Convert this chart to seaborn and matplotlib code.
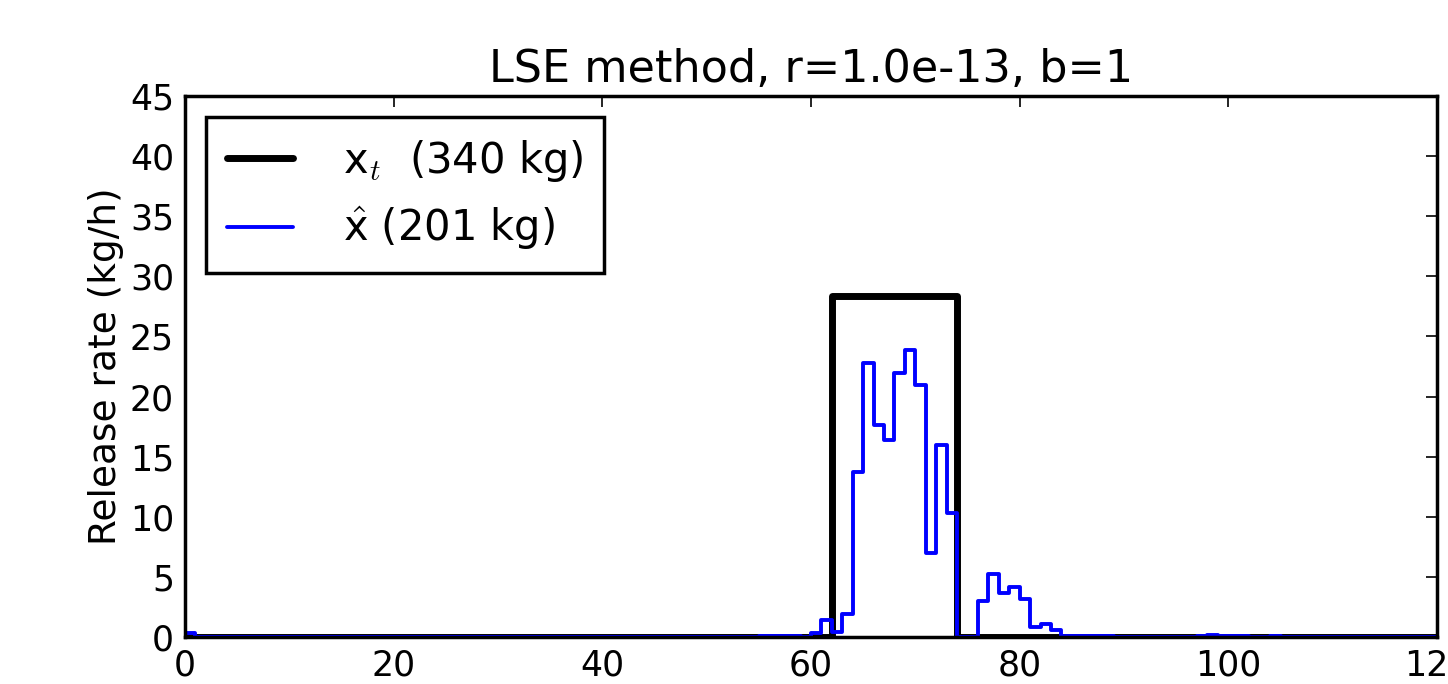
import numpy as np
import pandas as pd
import seaborn as sns
import matplotlib
matplotlib.use("Agg")
import matplotlib.pyplot as plt

# hourly release rates (kg/h), value holds over [h, h+1)
hours = np.arange(0, 121)

true_rate = [
    0, 0, 0, 0, 0, 0, 0, 0, 0, 0,
    0, 0, 0, 0, 0, 0, 0, 0, 0, 0,
    0, 0, 0, 0, 0, 0, 0, 0, 0, 0,
    0, 0, 0, 0, 0, 0, 0, 0, 0, 0,
    0, 0, 0, 0, 0, 0, 0, 0, 0, 0,
    0, 0, 0, 0, 0, 0, 0, 0, 0, 0,
    0, 0, 28.333, 28.333, 28.333, 28.333, 28.333, 28.333, 28.333, 28.333,
    28.333, 28.333, 28.333, 28.333, 0, 0, 0, 0, 0, 0,
    0, 0, 0, 0, 0, 0, 0, 0, 0, 0,
    0, 0, 0, 0, 0, 0, 0, 0, 0, 0,
    0, 0, 0, 0, 0, 0, 0, 0, 0, 0,
    0, 0, 0, 0, 0, 0, 0, 0, 0, 0,
    0,
]

est_rate = [
    0.3, 0, 0, 0, 0, 0, 0, 0, 0, 0,
    0, 0, 0, 0, 0, 0, 0, 0, 0, 0,
    0, 0, 0, 0, 0, 0, 0, 0, 0, 0,
    0, 0, 0, 0, 0, 0, 0, 0, 0, 0,
    0, 0, 0, 0, 0, 0, 0, 0, 0, 0,
    0, 0, 0, 0, 0, 0.05, 0.1, 0.1, 0.1, 0,
    0.35, 1.45, 0.45, 1.9, 13.7, 22.8, 17.6, 16.4, 22.0, 23.9,
    21.0, 7.0, 16.0, 10.3, 0, 0, 3.0, 5.2, 3.7, 4.2,
    3.2, 0.8, 1.1, 0.6, 0.05, 0.05, 0.05, 0.05, 0.05, 0,
    0, 0, 0, 0, 0, 0, 0, 0.1, 0.2, 0.05,
    0.05, 0.05, 0, 0, 0.05, 0, 0, 0, 0, 0,
    0, 0, 0, 0, 0, 0, 0, 0, 0, 0,
    0,
]

true_label = r"x$_t$  (340 kg)"
est_label = r"$\hat{\mathregular{x}}$ (201 kg)"
title = "LSE method, r=1.0e-13, b=1"

sns.set_style("white")
plt.rcParams["font.family"] = ["DejaVu Sans"]
plt.rcParams["mathtext.fontset"] = "cm"
plt.rcParams["font.size"] = 25
for key in ["text.color", "axes.labelcolor", "xtick.color", "ytick.color"]:
    plt.rcParams[key] = "black"

fig = plt.figure(figsize=(14.48, 6.84), dpi=100)
ax = fig.add_axes([0.1278, 0.0687, 0.8646, 0.7909])

sns.lineplot(x=hours, y=true_rate, drawstyle="steps-post", color="black",
             linewidth=5, label=true_label, ax=ax)
sns.lineplot(x=hours, y=est_rate, drawstyle="steps-post", color="blue",
             linewidth=2.8, label=est_label, ax=ax)

ax.set_xlim(0, 120)
ax.set_ylim(0, 45)
ax.set_xticks(np.arange(0, 121, 20))
ax.set_yticks(np.arange(0, 46, 5))
ax.set_ylabel("Release rate (kg/h)", fontsize=27)
ax.set_title(title, pad=10, fontsize=32)
ax.tick_params(direction="in", top=True, right=True, length=8, width=1.2,
               labelsize=25, pad=8)
for s in ax.spines.values():
    s.set_linewidth(2.5)
    s.set_color("black")

leg = ax.legend(loc="upper left", fancybox=False, frameon=True, framealpha=1,
                handlelength=1.6, handletextpad=1.2, borderpad=0.5,
                labelspacing=0.5, borderaxespad=0.5, fontsize=30)
leg.get_frame().set_edgecolor("black")
leg.get_frame().set_linewidth(2.5)

fig.savefig("out.png", dpi=100)
